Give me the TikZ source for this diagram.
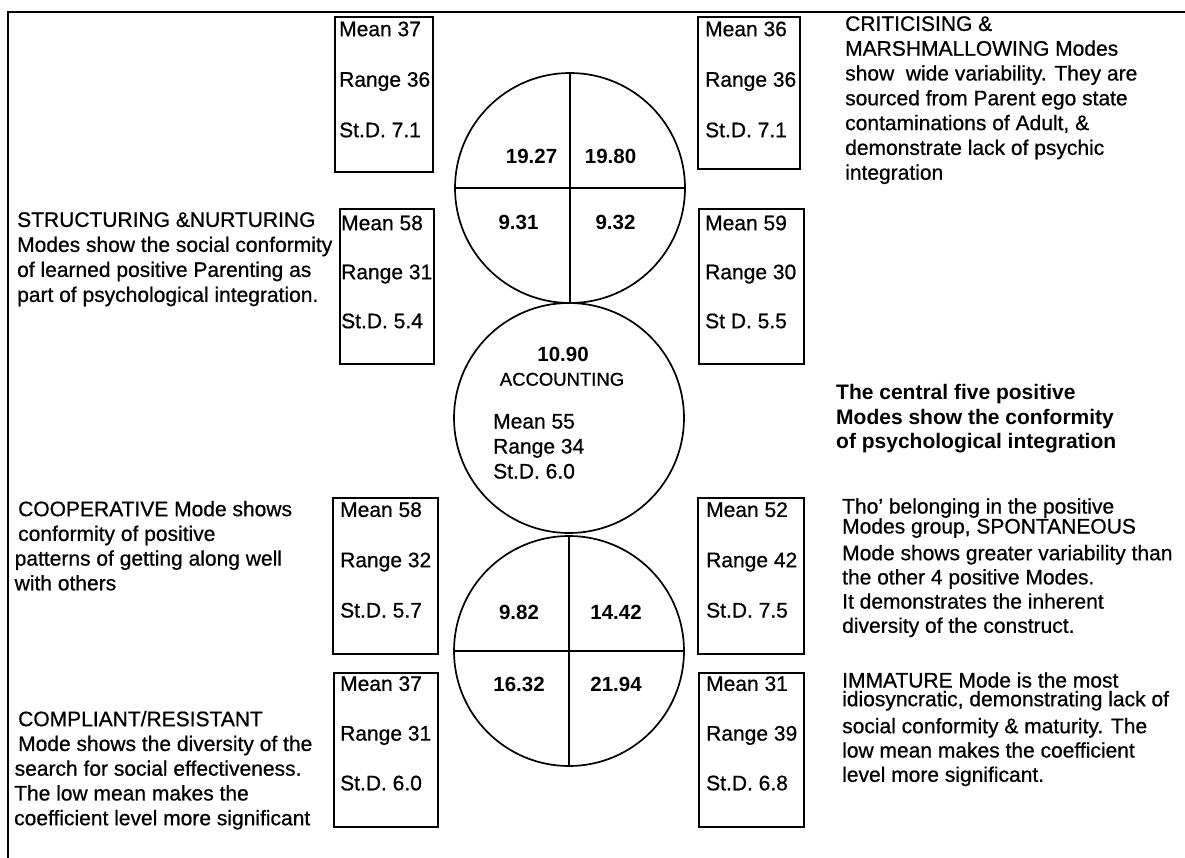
\documentclass[tikz,border=0pt]{standalone}
\usepackage{fontspec}
% slightly heavier upright face for the printed look of the text
\setmainfont{Liberation Sans}[UprightFeatures={FakeBold=0.7}]
% fixed-height strut so every text block's top sits 16pt above its first baseline
\newcommand\capline{\rule{0pt}{16pt}}
\begin{document}
\begin{tikzpicture}[x=1pt,y=-1pt,
  frame/.style={line width=1.8pt, line join=miter},
  statbox/.style={draw, line width=1.8pt, anchor=north west, inner sep=0pt},
  stattext/.style={anchor=north west, inner sep=0pt, align=left},
  para/.style={anchor=north west, inner sep=0pt, align=left},
  ring/.style={circle, draw, line width=1.7pt, inner sep=0pt, minimum size=230pt},
  divider/.style={line width=2pt},
  coef/.style={anchor=base, inner sep=0pt, font=\bfseries\fontsize{20.5}{24}\selectfont}]
\useasboundingbox (0,0) rectangle (1185,858);

% outer frame (top and left edges only)
\coordinate (frameTL) at (8,12);
\coordinate (frameTR) at (1185,12);
\coordinate (frameBL) at (8,858);
\draw[frame] (frameTR) -- (frameTL) -- (frameBL);

% statistic boxes
\node[statbox, minimum width=98pt,  minimum height=155pt] (boxTLa) at (334,16) {};
\node[statbox, minimum width=102pt, minimum height=152pt] (boxTRa) at (697,16) {};
\node[statbox, minimum width=94pt,  minimum height=155pt] (boxTLb) at (339,208) {};
\node[statbox, minimum width=105pt, minimum height=155pt] (boxTRb) at (698,208) {};
\node[statbox, minimum width=105pt, minimum height=156pt] (boxBLa) at (332,497) {};
\node[statbox, minimum width=106pt, minimum height=156pt] (boxBRa) at (697,497) {};
\node[statbox, minimum width=104pt, minimum height=154pt] (boxBLb) at (333,672) {};
\node[statbox, minimum width=105pt, minimum height=154pt] (boxBRb) at (698,672) {};

% statistics inside the boxes
\node[stattext, font=\fontsize{21}{50.5}\selectfont] (statTLa) at (339,20) {\capline Mean 37\\Range 36\\St.D. 7.1};
\node[stattext, font=\fontsize{21}{50.5}\selectfont] (statTRa) at (705,20) {\capline Mean 36\\Range 36\\St.D. 7.1};
\node[stattext, font=\fontsize{21}{49}\selectfont]   (statTLb) at (341,214) {\capline Mean 58\\Range 31\\St.D. 5.4};
\node[stattext, font=\fontsize{21}{49}\selectfont]   (statTRb) at (705,214) {\capline Mean 59\\Range 30\\St D. 5.5};
\node[stattext, font=\fontsize{21}{50.3}\selectfont] (statBLa) at (340,500.7) {\capline Mean 58\\Range 32\\St.D. 5.7};
\node[stattext, font=\fontsize{21}{50.3}\selectfont] (statBRa) at (706,500.7) {\capline Mean 52\\Range 42\\St.D. 7.5};
\node[stattext, font=\fontsize{21}{49.7}\selectfont] (statBLb) at (340,674.7) {\capline Mean 37\\Range 31\\St.D. 6.0};
\node[stattext, font=\fontsize{21}{49.7}\selectfont] (statBRb) at (706,674.7) {\capline Mean 31\\Range 39\\St.D. 6.8};

% the three circles
\node[ring] (ringTop) at (570,188) {};
\draw[divider] (ringTop.north) -- (ringTop.south);
\draw[divider] (ringTop.west) -- (ringTop.east);
\node[ring] (ringMid) at (569,418) {};
\node[ring] (ringBot) at (569,651) {};
\draw[divider] (ringBot.north) -- (ringBot.south);
\draw[divider] (ringBot.west) -- (ringBot.east);

% coefficients in the quadrants
\node[coef] (qTL) at (531.5,164) {19.27};
\node[coef] (qTR) at (610.5,164) {19.80};
\node[coef] (qML) at (518.5,229.3) {9.31};
\node[coef] (qMR) at (615.5,229.3) {9.32};
\node[coef] (qBL) at (519,619.3) {9.82};
\node[coef] (qBR) at (616,619.3) {14.42};
\node[coef] (qLL) at (519,691) {16.32};
\node[coef] (qLR) at (616,691) {21.94};

% accounting mode in the middle circle
\node[coef] (accCoef) at (563,361.7) {10.90};
\node[anchor=base, inner sep=0pt, font=\fontsize{18.5}{22}\selectfont] (accName) at (562,385.7) {ACCOUNTING};
\node[stattext, font=\fontsize{21}{25}\selectfont] (accStats) at (493,412.3) {\capline Mean 55\\Range 34\\St.D. 6.0};

% commentary paragraphs, left side
\node[para, font=\fontsize{21}{25}\selectfont] (txtStruct) at (17,210.7)
  {\capline STRUCTURING \&NURTURING\\
   Modes show the social conformity\\
   of learned positive Parenting as\\
   part of psychological integration.};
\node[para, font=\fontsize{21}{24.7}\selectfont] (txtCoop) at (18,500)
  {\capline COOPERATIVE Mode shows\\
   conformity of positive\\
   \hspace*{-3.5pt}patterns of getting along well\\
   \hspace*{-3.5pt}with others};
\node[para, font=\fontsize{21}{24.75}\selectfont] (txtCompl) at (18,710)
  {\capline COMPLIANT/RESISTANT\\
   Mode shows the diversity of the\\
   \hspace*{-3.5pt}search for social effectiveness.\\
   \hspace*{-4pt}The low mean makes the\\
   \hspace*{-4pt}coefficient level more significant};

% commentary paragraphs, right side
\node[para, font=\fontsize{21}{24.8}\selectfont] (txtCrit) at (845,14.7)
  {\capline CRITICISING \&\\
   MARSHMALLOWING Modes\\
   show\ \ wide variability. They are\\
   sourced from Parent ego state\\
   contaminations of Adult, \&\\
   demonstrate lack of psychic\\
   integration};
\node[para, font=\bfseries\fontsize{21}{24.7}\selectfont] (txtCentral) at (836,383.3)
  {\capline The central five positive\\
   Modes show the conformity\\
   of psychological integration};
\node[para, font=\fontsize{21}{24.2}\selectfont] (txtSpont) at (842,497.3)
  {\capline Tho' belonging in the positive\\[-4.2pt]
   Modes group, SPONTANEOUS\\[2.5pt]
   Mode shows greater variability than\\
   the other 4 positive Modes.\\
   It demonstrates the inherent\\
   diversity of the construct.};
\node[para, font=\fontsize{21}{24.3}\selectfont] (txtImm) at (842,671.3)
  {\capline IMMATURE Mode is the most\\[-5.6pt]
   idiosyncratic, demonstrating lack of\\[2.7pt]
   social conformity \& maturity. The\\
   low mean makes the coefficient\\
   level more significant.};
\end{tikzpicture}
\end{document}
